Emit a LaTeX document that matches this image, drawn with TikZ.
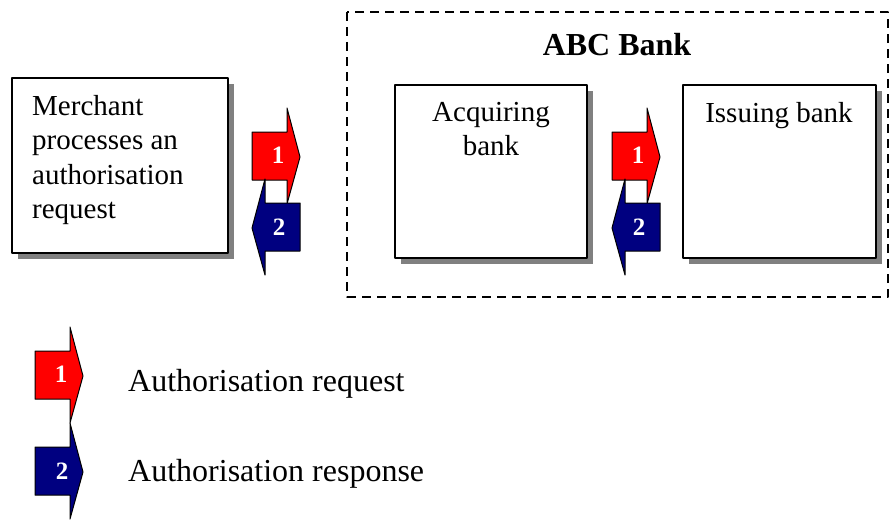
\documentclass[tikz,border=0pt]{standalone}
\usepackage{fontspec}
\setmainfont{Liberation Serif}
\definecolor{reqred}{RGB}{255,0,0}
\definecolor{respblue}{RGB}{0,0,128}
\definecolor{shadowgray}{RGB}{128,128,128}
\tikzset{
  num/.style={text=white,inner sep=0pt,font=\fontsize{25}{25}\selectfont\bfseries},
  boxtext/.style={inner sep=0pt,font=\fontsize{29}{34.5}\selectfont},
  legtext/.style={inner sep=0pt,font=\fontsize{32}{36}\selectfont},
  blockarrow/.style={line width=1pt,draw=black}
}

\begin{document}
\begin{tikzpicture}[line cap=round,line join=round,x=1pt,y=-1pt]
\useasboundingbox (0,0) rectangle (890,519);
\draw[line width=1.2pt,line cap=butt,dash pattern=on 9pt off 6pt] (347,12) rectangle (888,297);
\node[inner sep=0pt,font=\fontsize{32}{36}\selectfont\bfseries] (abc) at (617,45) {ABC Bank};
\foreach \xl/\yt/\xr/\yb in {12/78/228/253, 395/85/587/258, 683/85/876/258}{
\fill[shadowgray] (\xl+6,\yt+6) rectangle (\xr+6,\yb+6);
\draw[fill=white,line width=1.5pt] (\xl,\yt) rectangle (\xr,\yb);
}
\node[boxtext,anchor=north west,align=left] (merchant) at (32,95) {Merchant\\processes an\\authorisation\\request};
\node[boxtext,anchor=north,align=center] (acquirer) at (491,102) {Acquiring\\bank};
\node[boxtext,anchor=north,align=center] (issuer) at (779,102) {Issuing bank};
% request arrows
\foreach \n/\px/\py in {a/252/132, b/612/132, c/35/351}{
\draw[blockarrow,fill=reqred,shift={(\px,\py)}] (0,0) -- (35,0) -- (35,-24) -- (48,25) -- (35,72) -- (35,48) -- (0,48) -- cycle;
\node[num] (req\n) at (\px+26,\py+23) {1};
}
% response arrows
\foreach \n/\px/\py/\s/\dx in {a/300/203/-1/-21, b/660/203/-1/-21, c/35/447/1/27}{
\draw[blockarrow,fill=respblue,shift={(\px,\py)},xscale=\s] (0,0) -- (35,0) -- (35,-24) -- (48,25) -- (35,72) -- (35,48) -- (0,48) -- cycle;
\node[num] (resp\n) at (\px+\dx,\py+24) {2};
}
\node[legtext,anchor=base west] (reqtext) at (128,391) {Authorisation request};
\node[legtext,anchor=base west] (resptext) at (128,481) {Authorisation response};
\end{tikzpicture}
\end{document}
